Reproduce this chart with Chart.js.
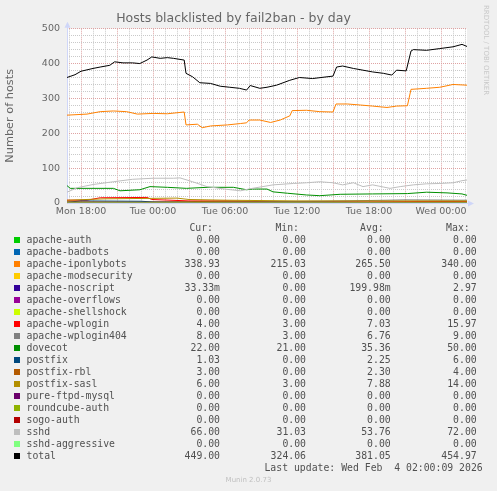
<!DOCTYPE html>
<html>
<head>
<meta charset="utf-8">
<title>Hosts blacklisted by fail2ban - by day</title>
<script src="https://cdn.jsdelivr.net/npm/chart.js@4.4.1/dist/chart.umd.min.js"></script>
<style>
  html, body { margin: 0; padding: 0; background: #F0F0F0; }
  #wrap { position: relative; width: 497px; height: 491px; overflow: hidden; font-family: 'DejaVu Sans', sans-serif; }
  #chartBox { position: absolute; left: 0; top: 0; width: 497px; height: 225px; }
  .txt { position: absolute; font-family: 'DejaVu Sans Mono', monospace; font-size: 9.8px; line-height: 12px; height: 12px; color: #505050; white-space: pre; }
  .num { text-align: right; }
  .swatch { position: absolute; width: 6px; height: 6px; }
  #rrdtool { position: absolute; left: 482px; top: 5px; writing-mode: vertical-rl; font-size: 7px; color: #C8C8C8; font-family: 'DejaVu Sans', sans-serif; }
  #munin { position: absolute; left: 0; width: 497px; top: 474px; text-align: center; font-size: 7px; line-height: 12px; color: #C0C0C0; }
</style>
</head>
<body>
<div id="wrap">
  <div id="chartBox"><canvas id="fail2banChart"></canvas></div>
  <div id="rrdtool">RRDTOOL / TOBI OETIKER</div>
  <div id="legend"></div>
  <div id="munin">Munin 2.0.73</div>
</div>
<script>
// x values are hours counted from Mon 18:00
const xTickHours = [0, 6, 12, 18, 24, 30];
const xTickLabels = ['Mon 18:00', 'Tue 00:00', 'Tue 06:00', 'Tue 12:00', 'Tue 18:00', 'Wed 00:00'];
const yTickValues = [0, 100, 200, 300, 400, 500];

// Series
const totalHours = [-1.17, -0.5, 0, 1, 1.6, 2.4, 2.8, 3.5, 4.3, 4.9, 5.5, 5.9, 6.6, 7.2, 7.7, 8.6, 8.75, 9.3, 9.9, 10.8, 11.6, 12.4, 13.2, 13.8, 14.1, 14.9, 15.5, 16.3, 17.4, 18.2, 19.3, 20.5, 21.0, 21.3, 21.8, 22.7, 23.5, 24.3, 25.2, 25.9, 26.3, 27.1, 27.5, 27.7, 28.8, 29.9, 31.0, 31.75, 32.17];
const totalValues = [360, 368, 378, 386, 390, 395, 405, 402, 402, 400, 410, 419, 415, 417, 415, 410, 372, 362, 345, 343, 335, 332, 329, 324, 337, 329, 332, 338, 352, 360, 357, 362, 364, 390, 393, 386, 381, 376, 372, 367, 381, 379, 436, 440, 438, 443, 448, 455, 449];

const iponlybotsHours = [-1.17, 0.5, 1.6, 2.7, 3.8, 4.7, 6.0, 7.2, 8.6, 8.75, 9.7, 10.1, 10.8, 12.2, 13.3, 13.8, 14.0, 14.9, 15.8, 16.6, 17.4, 17.6, 18.8, 19.9, 21.0, 21.25, 22.2, 23.3, 24.3, 25.5, 26.3, 27.2, 27.5, 28.8, 29.9, 31.0, 32.17];
const iponlybotsValues = [252, 255, 262, 264, 262, 255, 257, 256, 261, 224, 226, 216, 221, 224, 228, 230, 238, 238, 231, 238, 250, 265, 266, 262, 261, 284, 284, 281, 278, 274, 278, 279, 326, 329, 332, 340, 338];

const sshdHours = [-1.17, -0.3, 1.0, 2.7, 4.3, 6.0, 7.7, 8.25, 9.3, 10.5, 12.2, 13.3, 14.1, 16.0, 17.7, 18.8, 19.9, 21.0, 21.8, 22.7, 23.5, 24.3, 25.75, 26.6, 27.7, 28.8, 29.9, 31.0, 31.75, 32.17];
const sshdValues = [31, 44, 53, 61, 68, 71, 71, 72, 61, 47, 39, 35, 41, 52, 56, 58, 61, 58, 52, 58, 47, 52, 42, 47, 52, 55, 56, 58, 64, 66];

const dovecotHours = [-1.17, -0.9, 1.0, 2.7, 3.25, 4.9, 5.75, 7.2, 8.8, 10.5, 12.7, 13.8, 14.3, 15.5, 16.0, 17.2, 18.8, 19.9, 21.6, 24.3, 27.2, 28.8, 30.5, 31.75, 32.17];
const dovecotValues = [50, 42, 42, 42, 35, 38, 47, 45, 42, 45, 45, 38, 40, 40, 32, 28, 23, 21, 25, 26, 27, 31, 29, 26, 22];

const wploginHours = [-1.17, 0.5, 1.6, 5.5, 5.9, 9.0, 12.0, 15.0, 20.0, 24.0, 28.0, 32.17];
const wploginValues = [8, 8, 15, 16, 10, 6, 6, 4, 4, 3, 4, 4];

const wplogin404Hours = [-1.17, 12, 20, 25.5, 27, 32.17];
const wplogin404Values = [3, 3, 5, 8, 9, 8];

const postfixSaslHours = [-1.17, 2, 8, 9, 12, 18, 25, 32.17];
const postfixSaslValues = [8, 12, 14, 10, 8, 6, 6, 6];

const postfixRblHours = [-1.17, 5, 10, 15, 20, 32.17];
const postfixRblValues = [3, 2, 4, 3, 2, 3];

const postfixHours = [-1.17, 0, 5, 6, 12, 20, 32.17];
const postfixValues = [2, 6, 5, 3, 2, 2, 1];

const noscriptHours = [-1.17, 9, 9.5, 10, 32.17];
const noscriptValues = [0, 0, 2.97, 0, 0];

const zeroHours = [-1.17, 32.17];
const zeroValues = [0, 0];

// Legend
const seriesNames = ['apache-auth', 'apache-badbots', 'apache-iponlybots', 'apache-modsecurity', 'apache-noscript',
  'apache-overflows', 'apache-shellshock', 'apache-wplogin', 'apache-wplogin404', 'dovecot', 'postfix', 'postfix-rbl',
  'postfix-sasl', 'pure-ftpd-mysql', 'roundcube-auth', 'sogo-auth', 'sshd', 'sshd-aggressive', 'total'];
const seriesColors = ['#00CC00', '#0066B3', '#FF8000', '#FFCC00', '#330099', '#990099', '#CCFF00', '#FF0000', '#808080',
  '#008F00', '#00487D', '#B35A00', '#B38F00', '#6B006B', '#8FB300', '#B30000', '#BEBEBE', '#80FF80', '#000000'];
const curValues = ['0.00', '0.00', '338.93', '0.00', '33.33m', '0.00', '0.00', '4.00', '8.00', '22.00', '1.03', '3.00', '6.00', '0.00', '0.00', '0.00', '66.00', '0.00', '449.00'];
const minValues = ['0.00', '0.00', '215.03', '0.00', '0.00', '0.00', '0.00', '3.00', '3.00', '21.00', '0.00', '0.00', '3.00', '0.00', '0.00', '0.00', '31.03', '0.00', '324.06'];
const avgValues = ['0.00', '0.00', '265.50', '0.00', '199.98m', '0.00', '0.00', '7.03', '6.76', '35.36', '2.25', '2.30', '7.88', '0.00', '0.00', '0.00', '53.76', '0.00', '381.05'];
const maxValues = ['0.00', '0.00', '340.00', '0.00', '2.97', '0.00', '0.00', '15.97', '9.00', '50.00', '6.00', '4.00', '14.00', '0.00', '0.00', '0.00', '72.00', '0.00', '454.97'];
const lastUpdate = 'Last update: Wed Feb  4 02:00:09 2026';

const seriesHours = [zeroHours, zeroHours, iponlybotsHours, zeroHours, noscriptHours, zeroHours, zeroHours, wploginHours,
  wplogin404Hours, dovecotHours, postfixHours, postfixRblHours, postfixSaslHours, zeroHours, zeroHours, zeroHours,
  sshdHours, zeroHours, totalHours];
const seriesValues = [zeroValues, zeroValues, iponlybotsValues, zeroValues, noscriptValues, zeroValues, zeroValues, wploginValues,
  wplogin404Values, dovecotValues, postfixValues, postfixRblValues, postfixSaslValues, zeroValues, zeroValues, zeroValues,
  sshdValues, zeroValues, totalValues];

// ---- legend table (html text) ----
const legend = document.getElementById('legend');
function addText(text, left, right, top, cls) {
    const d = document.createElement('div');
    d.className = 'txt' + (cls ? ' ' + cls : '');
    d.textContent = text;
    d.style.top = top + 'px';
    if (right !== null) {
        d.style.right = (497 - right) + 'px';
    } else {
        d.style.left = left + 'px';
    }
    legend.appendChild(d);
}
const colEdges = [220, 306, 390.7, 476.7];
const headers = ['Cur:', 'Min:', 'Avg:', 'Max:'];
headers.forEach((h, i) => addText(h, null, colEdges[i] - 7, 222.3, 'num'));
seriesNames.forEach((name, i) => {
    const top = 233.7 + 12 * i;
    const sw = document.createElement('div');
    sw.className = 'swatch';
    sw.style.left = '14px';
    sw.style.top = (top + 3) + 'px';
    sw.style.background = seriesColors[i];
    legend.appendChild(sw);
    addText(name, 26.5, null, top);
    [curValues, minValues, avgValues, maxValues].forEach((col, c) => addText(col[i], null, colEdges[c], top, 'num'));
});
addText(lastUpdate, null, 482.7, 461.7, 'num');

// ---- chart ----
const plotDecor = {
    id: 'plotDecor',
    beforeDraw(chart) {
        const { ctx, chartArea: a } = chart;
        ctx.save();
        ctx.fillStyle = '#FFFFFF';
        ctx.fillRect(a.left, a.top, a.right - a.left, a.bottom - a.top);
        ctx.restore();
    },
    beforeDatasetsDraw(chart) {
        const { ctx, chartArea: a } = chart;
        const x0 = Math.round(a.left) + 0.5;
        const y0 = Math.round(a.bottom) + 0.5;
        ctx.save();
        ctx.strokeStyle = '#CFD6F8';
        ctx.fillStyle = '#CFD6F8';
        ctx.lineWidth = 1;
        ctx.beginPath();
        ctx.moveTo(x0, y0);
        ctx.lineTo(a.right + 4, y0);
        ctx.moveTo(x0, y0);
        ctx.lineTo(x0, a.top - 4);
        ctx.stroke();
        ctx.beginPath();
        ctx.moveTo(a.right + 7, y0);
        ctx.lineTo(a.right + 1, y0 - 3);
        ctx.lineTo(a.right + 1, y0 + 3);
        ctx.closePath();
        ctx.moveTo(x0, a.top - 7);
        ctx.lineTo(x0 - 3, a.top - 1);
        ctx.lineTo(x0 + 3, a.top - 1);
        ctx.closePath();
        ctx.fill();
        ctx.restore();
    }
};

const fail2banChart = document.getElementById('fail2banChart');
if (fail2banChart) {
    const fail2banData = {
        datasets: seriesNames.map((name, i) => ({
            label: name,
            data: seriesHours[i].map((h, j) => ({ x: h, y: seriesValues[i][j] })),
            borderColor: seriesColors[i],
            backgroundColor: seriesColors[i],
            borderWidth: 1,
            pointRadius: 0,
            tension: 0,
            order: seriesNames.length - i
        }))
    };
    const tickFont = { family: 'DejaVu Sans', size: 9.5 };
    const fail2banOptions = {
        responsive: true,
        maintainAspectRatio: false,
        animation: false,
        events: [],
        layout: {
            padding: { left: 0, right: 30, top: 0, bottom: 2 }
        },
        scales: {
            x: {
                type: 'linear',
                min: -14 / 12,
                max: 386 / 12,
                afterBuildTicks: (axis) => {
                    const ticks = [];
                    for (let h = -1; h <= 32; h++) ticks.push({ value: h });
                    axis.ticks = ticks;
                },
                afterFit: (axis) => { axis.height = 20; },
                ticks: {
                    autoSkip: false,
                    maxRotation: 0,
                    padding: 3,
                    color: '#666666',
                    font: tickFont,
                    callback: (v) => {
                        const k = xTickHours.indexOf(v);
                        return k >= 0 ? xTickLabels[k] : '';
                    }
                },
                grid: {
                    drawTicks: false,
                    lineWidth: 1,
                    color: (c) => (((c.tick.value % 3) + 3) % 3 === 0 ? '#DFA3A3' : '#C9C9C9')
                },
                border: { display: false, dash: [1, 1] }
            },
            y: {
                min: 0,
                max: 500,
                afterBuildTicks: (axis) => {
                    const ticks = [];
                    for (let v = 0; v <= 500; v += 20) ticks.push({ value: v });
                    axis.ticks = ticks;
                },
                afterFit: (axis) => { axis.width = 67; },
                title: {
                    display: true,
                    text: 'Number of hosts',
                    color: '#666666',
                    font: { family: 'DejaVu Sans', size: 11.3 },
                    padding: { top: 3, bottom: 0 }
                },
                ticks: {
                    autoSkip: false,
                    padding: 7,
                    color: '#666666',
                    font: tickFont,
                    callback: (v) => (yTickValues.includes(v) ? String(v) : '')
                },
                grid: {
                    drawTicks: false,
                    lineWidth: 1,
                    color: (c) => (c.tick.value % 100 === 0 ? '#DFA3A3' : '#C9C9C9')
                },
                border: { display: false, dash: [1, 1] }
            }
        },
        plugins: {
            legend: { display: false },
            tooltip: { enabled: false },
            title: {
                display: true,
                text: 'Hosts blacklisted by fail2ban - by day',
                color: '#666666',
                font: { family: 'DejaVu Sans', size: 12.5, weight: 'normal' },
                padding: { top: 11.5, bottom: 2.2 }
            }
        }
    };
    new Chart(fail2banChart, {
        type: 'line',
        data: fail2banData,
        options: fail2banOptions,
        plugins: [plotDecor]
    });
}
</script>
</body>
</html>
